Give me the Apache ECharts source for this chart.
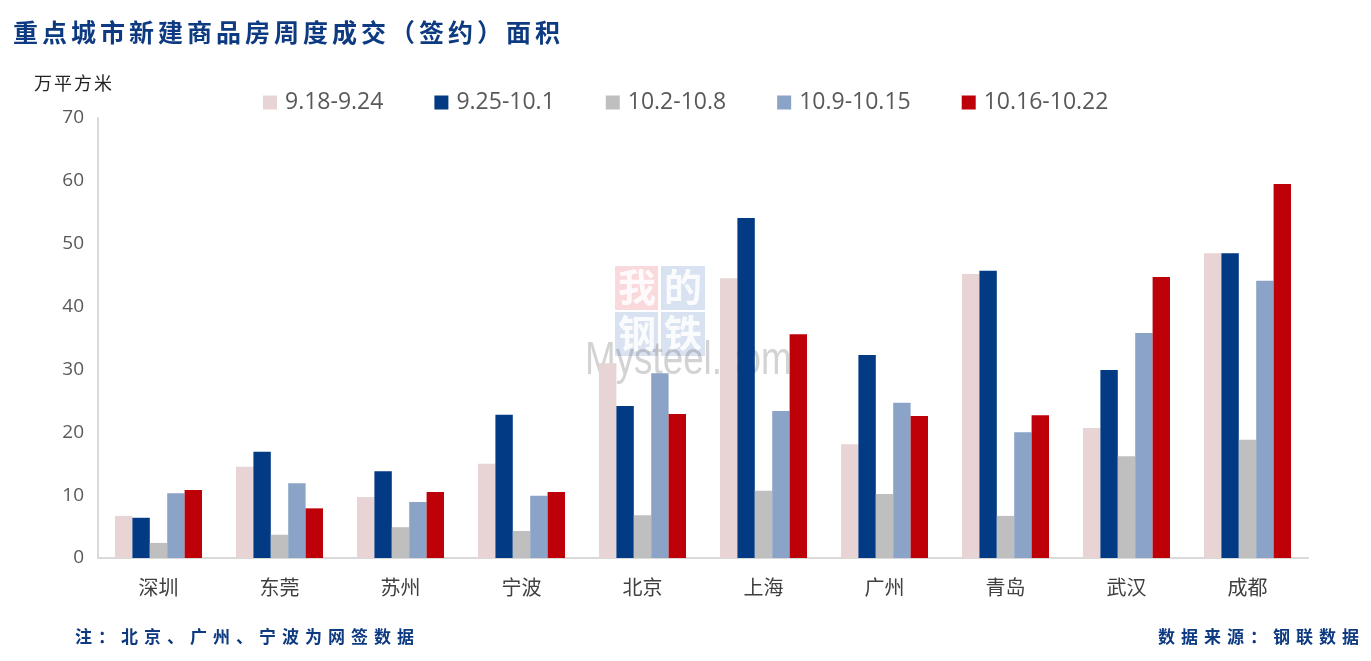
<!DOCTYPE html>
<html><head><meta charset="utf-8">
<script src="https://cdn.jsdelivr.net/npm/echarts@6/dist/echarts.min.js"></script>
<style>html,body{margin:0;padding:0;background:#fff}#c{width:1371px;height:661px}</style>
</head><body><div id="c"></div>
<script>
const categories = ['深圳','东莞','苏州','宁波','北京','上海','广州','青岛','武汉','成都'];
const seriesNames = ['9.18-9.24','9.25-10.1','10.2-10.8','10.9-10.15','10.16-10.22'];
const s1 = [6.7, 14.5, 9.7, 15.0, 31.0, 44.5, 18.1, 45.2, 20.7, 48.5];
const s2 = [6.4, 16.9, 13.8, 22.8, 24.2, 54.1, 32.3, 45.7, 29.9, 48.5];
const s3 = [2.4, 3.7, 4.9, 4.3, 6.8, 10.7, 10.2, 6.7, 16.2, 18.8];
const s4 = [10.3, 11.9, 8.9, 9.9, 29.4, 23.4, 24.7, 20.0, 35.8, 44.1];
const s5 = [10.8, 7.9, 10.5, 10.5, 22.9, 35.6, 22.6, 22.7, 44.7, 59.5];
const colors = ['#E8D4D4','#023A84','#BFBFBF','#8AA3C6','#BE0008'];
const data = [s1,s2,s3,s4,s5];

const titleText = '重点城市新建商品房周度成交（签约）面积';
const unitText = '万平方米';
const noteText = '注：北京、广州、宁波为网签数据';
const sourceText = '数据来源：钢联数据';

const cjk = '"Noto Sans CJK SC", sans-serif';
const latin = '"Open Sans", "Liberation Sans", sans-serif';

// spaced text: one text element per character, advancing by step
function spaced(text, x, y, fontSize, step, style) {
  return {
    type: 'group', left: x, top: y,
    children: Array.from(text).map((ch, i) => ({
      type: 'text',
      style: Object.assign({x: i * step, y: 0, text: ch, fontFamily: cjk, fontSize: fontSize}, style)
    }))
  };
}

const chart = echarts.init(document.getElementById('c'));
chart.setOption({
  animation: false,
  color: colors,
  legend: {
    data: seriesNames,
    left: 258, top: 86,
    itemWidth: 14, itemHeight: 14, itemGap: 51,
    icon: 'rect',
    textStyle: {fontFamily: latin, fontSize: 23, color: '#595959', padding: [0, 0, 0, 3]}
  },
  grid: {left: 98, right: 63, top: 118, bottom: 103, containLabel: false},
  xAxis: {
    type: 'category', data: categories,
    axisLine: {lineStyle: {color: '#D9D9D9', width: 2}},
    axisTick: {show: false},
    axisLabel: {fontFamily: cjk, fontSize: 20, color: '#404040', margin: 19}
  },
  yAxis: {
    type: 'value', min: 0, max: 70, interval: 10,
    axisLine: {show: true, lineStyle: {color: '#D9D9D9', width: 2}},
    axisTick: {show: false},
    splitLine: {show: false},
    axisLabel: {fontFamily: latin, fontSize: 19, color: '#595959', margin: 14}
  },
  series: seriesNames.map((n, i) => ({
    name: n, type: 'bar', data: data[i],
    barWidth: 17.4, barGap: '0%',
    itemStyle: {color: colors[i]}
  })),
  graphic: [
    spaced(titleText, 13, 20, 25, 29, {fontWeight: 'bold', fill: '#0D3A80'}),
    spaced(unitText, 34, 74, 18, 20, {fill: '#222'}),
    spaced(noteText, 75, 628, 17, 23, {fontWeight: 'bold', fill: '#0D3A80'}),
    spaced(sourceText, 1158, 628, 17, 23, {fontWeight: 'bold', fill: '#0D3A80'}),
    {type: 'group', left: 585, top: 266, z: 100, silent: true, children: [
      {type: 'rect', shape: {x: 30, y: 0, width: 43, height: 44}, style: {fill: 'rgba(240,130,140,0.3)'}},
      {type: 'rect', shape: {x: 76, y: 0, width: 44, height: 44}, style: {fill: 'rgba(130,160,210,0.3)'}},
      {type: 'rect', shape: {x: 30, y: 46, width: 43, height: 44}, style: {fill: 'rgba(130,160,210,0.3)'}},
      {type: 'rect', shape: {x: 76, y: 46, width: 44, height: 44}, style: {fill: 'rgba(130,160,210,0.3)'}},
      {type: 'text', style: {x: 33, y: 2, text: '我', fontFamily: cjk, fontSize: 38, fontWeight: 'bold', fill: 'rgba(255,255,255,0.85)'}},
      {type: 'text', style: {x: 79, y: 2, text: '的', fontFamily: cjk, fontSize: 38, fontWeight: 'bold', fill: 'rgba(255,255,255,0.85)'}},
      {type: 'text', style: {x: 33, y: 48, text: '钢', fontFamily: cjk, fontSize: 38, fontWeight: 'bold', fill: 'rgba(255,255,255,0.85)'}},
      {type: 'text', style: {x: 79, y: 48, text: '铁', fontFamily: cjk, fontSize: 38, fontWeight: 'bold', fill: 'rgba(255,255,255,0.85)'}},
      {type: 'text', x: 0, y: 72, scaleX: 0.8, style: {x: 0, y: 0, text: 'Mysteel.com', fontFamily: '"Liberation Sans", Arial, sans-serif', fontSize: 46, fill: 'rgba(110,110,110,0.3)'}}
    ]}
  ]
});
</script>
</body></html>
